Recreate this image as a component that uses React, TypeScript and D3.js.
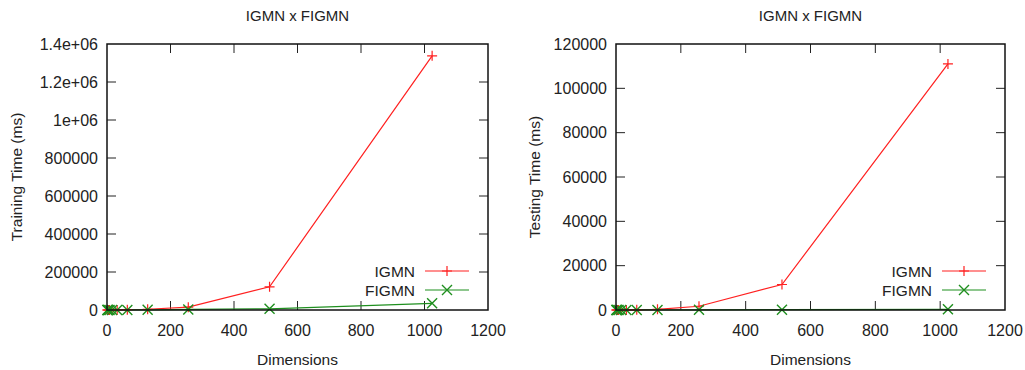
import React from 'react';
import * as d3 from 'd3';

const dimensions = [1, 2, 4, 8, 16, 32, 64, 128, 256, 512, 1024];
const igmnTraining = [5, 10, 20, 50, 150, 500, 1500, 4000, 15000, 122000, 1338000];
const figmnTraining = [4, 8, 15, 30, 60, 150, 400, 1000, 3000, 6000, 35000];
const igmnTesting = [1, 2, 4, 8, 15, 40, 100, 300, 1700, 11500, 111000];
const figmnTesting = [1, 1, 2, 3, 5, 10, 20, 40, 80, 150, 300];

const xTicks = [0, 200, 400, 600, 800, 1000, 1200];
const trainingTicks = [0, 200000, 400000, 600000, 800000, 1000000, 1200000, 1400000];
const trainingTickLabels = ['0', '200000', '400000', '600000', '800000', '1e+06', '1.2e+06', '1.4e+06'];
const testingTicks = [0, 20000, 40000, 60000, 80000, 100000, 120000];

const seriesNames = ['IGMN', 'FIGMN'];
const RED = '#ff2020';
const GREEN = '#1f8f1f';
const FONT = '"Liberation Sans", Arial, sans-serif';

type PanelProps = {
  left: number;
  right: number;
  labelX: number;
  yMax: number;
  yTicks: number[];
  yTickLabels: string[];
  yLabel: string;
  igmn: number[];
  figmn: number[];
};

const Plus = ({ x, y, color }: { x: number; y: number; color: string }) => (
  <path d={`M${x - 5},${y}H${x + 5}M${x},${y - 5}V${y + 5}`} stroke={color} strokeWidth={1.2} />
);

const Cross = ({ x, y, color }: { x: number; y: number; color: string }) => (
  <path d={`M${x - 5},${y - 5}L${x + 5},${y + 5}M${x - 5},${y + 5}L${x + 5},${y - 5}`} stroke={color} strokeWidth={1.4} />
);

const Panel = ({ left, right, labelX, yMax, yTicks, yTickLabels, yLabel, igmn, figmn }: PanelProps) => {
  const top = 44;
  const bottom = 310;
  const x = d3.scaleLinear().domain([0, 1200]).range([left, right]);
  const y = d3.scaleLinear().domain([0, yMax]).range([bottom, top]);
  const line = d3.line<number>()
    .x((_, i) => x(dimensions[i]))
    .y(d => y(d));
  const mid = (left + right) / 2;
  const tick = 9;
  const legendTextX = right - 73;
  const legendY = [271, 290];

  return (
    <g fontFamily={FONT} fill="#222">
      <text x={mid} y={21} textAnchor="middle" fontSize={15}>IGMN x FIGMN</text>
      <text x={mid} y={365} textAnchor="middle" fontSize={15.5}>Dimensions</text>
      <text
        transform={`translate(${labelX},${(top + bottom) / 2}) rotate(-90)`}
        textAnchor="middle"
        dy="0.35em"
        fontSize={15.5}
      >
        {yLabel}
      </text>

      {xTicks.map(t => (
        <g key={`x${t}`}>
          {t > 0 && t < 1200 && (
            <>
              <line x1={x(t)} x2={x(t)} y1={bottom} y2={bottom - tick} stroke="#222" />
              <line x1={x(t)} x2={x(t)} y1={top} y2={top + tick} stroke="#222" />
            </>
          )}
          <text x={x(t)} y={336} textAnchor="middle" fontSize={16}>{t}</text>
        </g>
      ))}
      {yTicks.map((t, i) => (
        <g key={`y${t}`}>
          {t > 0 && t < yMax && (
            <>
              <line x1={left} x2={left + tick} y1={y(t)} y2={y(t)} stroke="#222" />
              <line x1={right} x2={right - tick} y1={y(t)} y2={y(t)} stroke="#222" />
            </>
          )}
          <text x={left - 9} y={y(t)} dy="0.36em" textAnchor="end" fontSize={16}>{yTickLabels[i]}</text>
        </g>
      ))}

      <path d={line(igmn) ?? ''} fill="none" stroke={RED} strokeWidth={1.2} />
      <path d={line(figmn) ?? ''} fill="none" stroke={GREEN} strokeWidth={1.2} />
      {igmn.map((v, i) => <Plus key={`p${i}`} x={x(dimensions[i])} y={y(v)} color={RED} />)}
      {figmn.map((v, i) => <Cross key={`c${i}`} x={x(dimensions[i])} y={y(v)} color={GREEN} />)}

      <rect x={left} y={top} width={right - left} height={bottom - top} fill="none" stroke="#111" strokeWidth={1.5} />

      {seriesNames.map((name, i) => (
        <g key={name}>
          <text x={legendTextX} y={legendY[i]} dy="0.36em" textAnchor="end" fontSize={15.5}>{name}</text>
          <line x1={legendTextX + 10} x2={legendTextX + 54} y1={legendY[i]} y2={legendY[i]}
            stroke={i === 0 ? RED : GREEN} strokeWidth={1.2} />
          {i === 0
            ? <Plus x={legendTextX + 32} y={legendY[i]} color={RED} />
            : <Cross x={legendTextX + 32} y={legendY[i]} color={GREEN} />}
        </g>
      ))}
    </g>
  );
};

const App = () => (
  <div style={{ position: 'absolute', left: 0, top: 0 }}>
    <svg width={1025} height={370} style={{ display: 'block', background: '#fff' }}>
      <Panel
        left={107}
        right={488}
        labelX={17}
        yMax={1400000}
        yTicks={trainingTicks}
        yTickLabels={trainingTickLabels}
        yLabel="Training Time (ms)"
        igmn={igmnTraining}
        figmn={figmnTraining}
      />
      <Panel
        left={616}
        right={1005}
        labelX={535}
        yMax={120000}
        yTicks={testingTicks}
        yTickLabels={testingTicks.map(String)}
        yLabel="Testing Time (ms)"
        igmn={igmnTesting}
        figmn={figmnTesting}
      />
    </svg>
  </div>
);

export default App;
